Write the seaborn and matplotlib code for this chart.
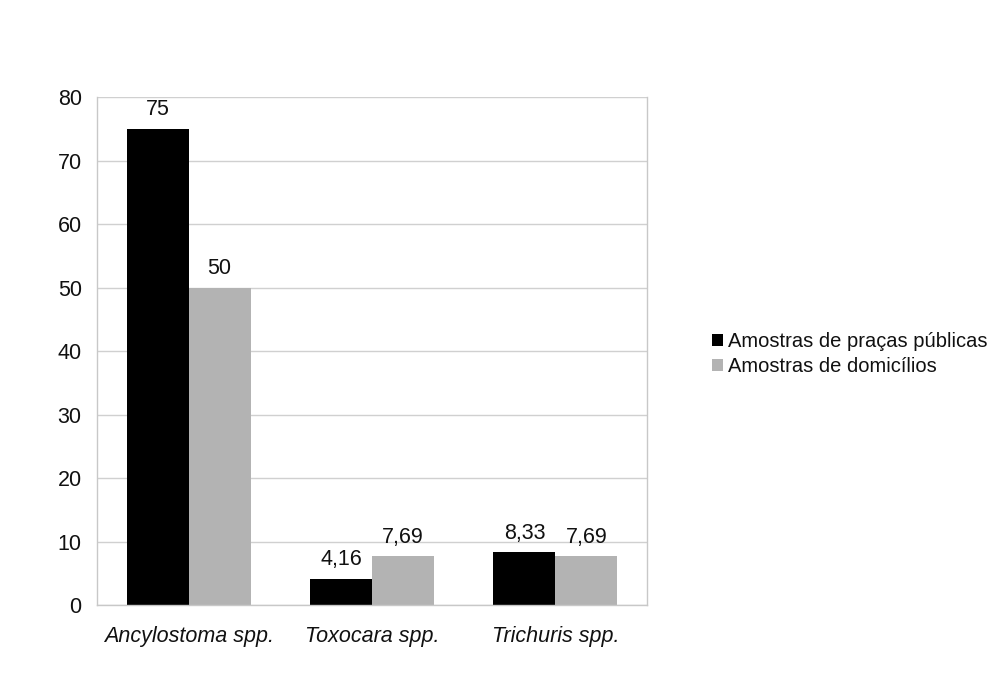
import matplotlib
matplotlib.use("Agg")
import matplotlib.pyplot as plt
import seaborn as sns
import pandas as pd
from matplotlib.patches import Patch
from matplotlib.ticker import FixedLocator

categories = ["Ancylostoma spp.", "Toxocara spp.", "Trichuris spp."]
series_names = ["Amostras de praças públicas", "Amostras de domicílios"]
pracas = [75, 4.16, 8.33]
domicilios = [50, 7.69, 7.69]
label_pracas = ["75", "4,16", "8,33"]
label_domicilios = ["50", "7,69", "7,69"]
yticks = [0, 10, 20, 30, 40, 50, 60, 70, 80]

df = pd.DataFrame({
    "cat": categories * 2,
    "serie": [series_names[0]] * 3 + [series_names[1]] * 3,
    "val": pracas + domicilios,
})

sns.set_style("white")
plt.rcParams["font.family"] = ["Liberation Sans", "DejaVu Sans"]
plt.rcParams["text.color"] = "#111111"
plt.rcParams["xtick.color"] = "#111111"
plt.rcParams["ytick.color"] = "#111111"

FS = 15.5
colors = ["#000000", "#b3b3b3"]
fig = plt.figure(figsize=(10.05, 6.95), dpi=100)
ax = fig.add_axes([0.0965, 0.1295, 0.5473, 0.7309])

sns.barplot(data=df, x="cat", y="val", hue="serie", palette=colors,
            width=0.675, gap=0, ax=ax, legend=False, saturation=1,
            edgecolor="none")

ax.set_xlim(-0.5, 2.5)
ax.set_ylim(0, 80)
ax.set_yticks(yticks)
ax.set_yticklabels([str(v) for v in yticks], fontsize=FS)
ax.yaxis.grid(True, color="#d0d0d0", linewidth=1)
ax.set_axisbelow(True)
ax.set_xlabel("")
ax.set_ylabel("")

ax.set_xticks(range(3))
ax.set_xticklabels(categories, fontsize=FS, style="italic")
ax.tick_params(axis="x", which="major", length=0, pad=15, labelcolor="#111111")
ax.xaxis.set_minor_locator(FixedLocator([-0.5, 0.5, 1.5, 2.5]))
ax.tick_params(axis="x", which="minor", length=10, color="#c8c8c8", width=1)
ax.tick_params(axis="y", length=8, color="#c8c8c8", width=1, pad=3, labelcolor="#111111")

ax.spines["top"].set_visible(False)
for s in ["left", "bottom", "right"]:
    ax.spines[s].set_color("#c8c8c8")
    ax.spines[s].set_linewidth(1)

labels_all = [label_pracas, label_domicilios]
for cont, labs in zip(ax.containers, labels_all):
    ax.bar_label(cont, labels=labs, padding=6, fontsize=FS)

handles = [Patch(facecolor=c, edgecolor="none") for c in colors]
fig.legend(handles, series_names, loc="center left", bbox_to_anchor=(0.69, 0.49),
           frameon=False, fontsize=14.5, handlelength=0.55, handleheight=0.55,
           handletextpad=0.25, labelspacing=0.3)

fig.savefig("out.png", dpi=100)
